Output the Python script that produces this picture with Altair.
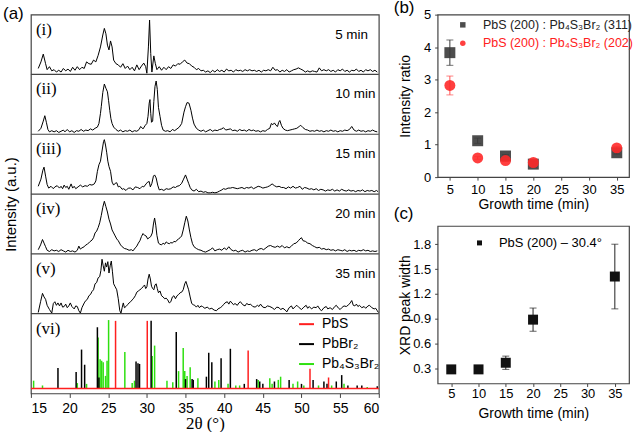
import altair as alt
import pandas as pd

# ---------------- data: panel (a) XRD traces (2theta, normalised height within its strip) ----------------
TRACE_I = [(15.95,.10),(16.3,.21),(16.6,.34),(16.9,.18),(17.1,.08),(17.4,.13),(17.7,.06),(18.0,.08),(18.3,.04),(18.6,.07),(18.9,.04),(19.2,.10),(19.5,.06),(19.8,.09),(20.1,.05),(20.4,.12),(20.7,.07),(21.0,.13),(21.3,.08),(21.6,.12),(21.9,.10),(22.2,.21),(22.5,.18),(22.8,.17),(23.1,.24),(23.4,.21),(23.7,.32),(24.0,.46),(24.3,.66),(24.5,.77),(24.7,.68),(24.9,.49),(25.1,.41),(25.3,.56),(25.5,.46),(25.7,.24),(26.0,.18),(26.3,.16),(26.6,.12),(26.9,.18),(27.2,.10),(27.5,.14),(27.8,.08),(28.1,.12),(28.4,.06),(28.7,.16),(29.0,.08),(29.3,.14),(29.6,.19),(29.85,.13),(30.0,.02),(30.2,.46),(30.35,.91),(30.5,.35),(30.65,.04),(30.9,.31),(31.1,.18),(31.3,.08),(31.6,.13),(31.9,.07),(32.2,.12),(32.5,.08),(32.8,.13),(33.1,.10),(33.4,.16),(33.7,.14),(34.0,.18),(34.3,.17),(34.6,.21),(34.9,.24),(35.2,.19),(35.5,.18),(35.8,.14),(36.1,.12),(36.4,.08),(36.7,.10),(37.0,.06),(37.3,.07),(37.6,.04),(37.9,.06),(38.2,.03),(38.5,.07),(38.8,.04),(39.1,.08),(39.4,.05),(39.7,.07),(40.0,.04),(40.3,.09),(40.6,.06),(40.9,.07),(41.2,.04),(41.5,.08),(41.8,.06),(42.1,.07),(42.4,.05),(42.7,.08),(43.0,.06),(43.3,.08),(43.6,.06),(43.9,.07),(44.2,.05),(44.5,.07),(44.8,.04),(45.1,.07),(45.4,.06),(45.7,.08),(46.0,.06),(46.3,.12),(46.6,.07),(46.9,.08),(47.2,.04),(47.5,.07),(47.8,.05),(48.1,.08),(48.4,.04),(48.7,.06),(49.0,.08),(49.3,.09),(49.6,.11),(49.9,.09),(50.2,.07),(50.5,.04),(50.8,.06),(51.1,.04),(51.4,.06),(51.7,.05),(52.0,.04),(52.3,.11),(52.6,.06),(52.9,.08),(53.2,.06),(53.5,.08),(53.8,.05),(54.1,.07),(54.4,.04),(54.7,.08),(55.0,.06),(55.3,.09),(55.6,.05),(55.9,.07),(56.2,.04),(56.5,.07),(56.8,.06),(57.1,.09),(57.4,.05),(57.7,.07),(58.0,.04),(58.3,.08),(58.6,.06),(58.9,.08),(59.2,.05),(59.5,.07),(59.8,.04)]

TRACE_II = [(15.95,.05),(16.3,.10),(16.6,.22),(16.8,.31),(17.0,.20),(17.2,.08),(17.4,.04),(17.7,.06),(18.0,.04),(18.3,.06),(18.6,.03),(18.9,.05),(19.2,.07),(19.4,.04),(19.7,.08),(20.0,.04),(20.3,.06),(20.6,.03),(20.9,.06),(21.2,.05),(21.5,.08),(21.8,.05),(22.1,.07),(22.4,.06),(22.7,.09),(23.0,.07),(23.3,.10),(23.6,.12),(23.8,.18),(24.0,.35),(24.1,.46),(24.3,.70),(24.5,.84),(24.7,.77),(24.9,.71),(25.05,.56),(25.2,.40),(25.35,.26),(25.5,.18),(25.7,.12),(26.0,.08),(26.3,.05),(26.6,.07),(26.9,.04),(27.2,.06),(27.5,.05),(27.8,.07),(28.1,.04),(28.4,.06),(28.7,.05),(29.0,.08),(29.2,.13),(29.5,.09),(29.8,.15),(30.0,.18),(30.15,.30),(30.3,.52),(30.4,.58),(30.5,.35),(30.6,.20),(30.75,.22),(30.9,.55),(31.05,.80),(31.2,.89),(31.35,.75),(31.5,.45),(31.7,.30),(31.9,.15),(32.1,.07),(32.4,.05),(32.7,.06),(33.0,.04),(33.3,.08),(33.6,.06),(33.9,.09),(34.2,.12),(34.5,.18),(34.8,.37),(35.0,.46),(35.2,.53),(35.45,.52),(35.7,.40),(35.9,.27),(36.1,.17),(36.4,.10),(36.7,.07),(37.0,.05),(37.3,.07),(37.6,.04),(37.9,.06),(38.2,.08),(38.5,.05),(38.8,.07),(39.1,.06),(39.4,.08),(39.7,.09),(39.9,.11),(40.2,.07),(40.5,.08),(40.8,.09),(41.1,.06),(41.4,.07),(41.7,.05),(42.0,.08),(42.3,.06),(42.6,.07),(42.9,.05),(43.2,.08),(43.5,.06),(43.8,.07),(44.1,.05),(44.4,.06),(44.7,.04),(45.0,.06),(45.3,.05),(45.6,.08),(45.9,.10),(46.1,.18),(46.3,.16),(46.5,.19),(46.7,.15),(46.9,.13),(47.05,.20),(47.2,.23),(47.4,.15),(47.6,.10),(47.9,.07),(48.2,.06),(48.5,.07),(48.8,.08),(49.1,.09),(49.4,.10),(49.7,.13),(49.9,.15),(50.2,.11),(50.5,.08),(50.8,.07),(51.1,.05),(51.4,.06),(51.7,.05),(52.0,.07),(52.3,.05),(52.6,.06),(52.9,.04),(53.2,.06),(53.5,.05),(53.8,.07),(54.1,.05),(54.4,.06),(54.7,.04),(55.0,.06),(55.3,.05),(55.6,.07),(55.9,.06),(56.2,.08),(56.5,.13),(56.8,.07),(57.1,.05),(57.4,.07),(57.7,.05),(58.0,.06),(58.3,.04),(58.6,.06),(58.9,.05),(59.2,.07),(59.5,.05),(59.8,.04)]

TRACE_III = [(15.95,.13),(16.3,.25),(16.55,.40),(16.7,.45),(16.9,.30),(17.1,.16),(17.3,.10),(17.6,.13),(17.9,.09),(18.1,.12),(18.4,.14),(18.7,.10),(18.9,.13),(19.1,.09),(19.3,.15),(19.5,.11),(19.7,.13),(19.9,.08),(20.2,.17),(20.4,.10),(20.6,.13),(20.8,.09),(21.1,.12),(21.4,.15),(21.7,.12),(22.0,.14),(22.3,.13),(22.6,.16),(22.9,.15),(23.2,.17),(23.4,.22),(23.6,.38),(23.8,.49),(24.0,.55),(24.2,.72),(24.4,.88),(24.5,.91),(24.65,.82),(24.8,.70),(24.95,.55),(25.1,.46),(25.3,.38),(25.5,.20),(25.7,.15),(25.9,.18),(26.1,.19),(26.3,.12),(26.5,.13),(26.8,.08),(27.0,.09),(27.3,.06),(27.6,.10),(27.9,.10),(28.2,.07),(28.5,.12),(28.8,.11),(29.1,.09),(29.4,.13),(29.6,.12),(29.9,.17),(30.1,.20),(30.3,.21),(30.45,.12),(30.65,.18),(30.85,.30),(31.0,.32),(31.2,.27),(31.4,.15),(31.6,.07),(31.9,.08),(32.2,.06),(32.5,.09),(32.8,.08),(33.1,.09),(33.4,.12),(33.7,.11),(33.9,.13),(34.2,.14),(34.5,.18),(34.75,.25),(35.0,.32),(35.2,.25),(35.4,.18),(35.6,.11),(35.8,.07),(36.1,.05),(36.4,.08),(36.7,.04),(37.0,.05),(37.3,.03),(37.6,.04),(37.9,.02),(38.2,.02),(38.5,.03),(38.8,.02),(39.1,.03),(39.4,.05),(39.7,.07),(39.9,.09),(40.2,.08),(40.5,.10),(40.8,.10),(41.1,.11),(41.4,.10),(41.7,.09),(42.0,.10),(42.3,.11),(42.6,.09),(42.9,.11),(43.2,.10),(43.5,.12),(43.8,.09),(44.1,.11),(44.4,.13),(44.7,.12),(45.0,.10),(45.3,.11),(45.6,.12),(45.9,.14),(46.2,.17),(46.5,.14),(46.8,.12),(47.1,.13),(47.4,.11),(47.7,.11),(48.0,.09),(48.3,.12),(48.6,.10),(48.9,.13),(49.2,.10),(49.5,.11),(49.8,.13),(50.1,.08),(50.4,.11),(50.7,.10),(51.0,.08),(51.3,.09),(51.6,.07),(51.9,.09),(52.2,.06),(52.5,.08),(52.8,.07),(53.1,.05),(53.4,.07),(53.7,.06),(54.0,.08),(54.3,.05),(54.6,.07),(54.9,.05),(55.2,.08),(55.5,.06),(55.8,.05),(56.1,.07),(56.4,.05),(56.7,.06),(57.0,.04),(57.3,.06),(57.6,.05),(57.9,.07),(58.2,.04),(58.5,.06),(58.8,.05),(59.1,.06),(59.4,.04),(59.7,.06),(59.9,.04)]

TRACE_IV = [(15.95,.07),(16.25,.15),(16.5,.24),(16.7,.18),(16.9,.12),(17.1,.06),(17.4,.04),(17.7,.07),(18.0,.05),(18.3,.06),(18.6,.04),(18.9,.07),(19.2,.05),(19.5,.03),(19.8,.06),(20.1,.04),(20.4,.05),(20.7,.03),(21.0,.06),(21.2,.13),(21.4,.08),(21.6,.10),(21.9,.12),(22.1,.15),(22.3,.16),(22.6,.20),(22.9,.23),(23.1,.27),(23.3,.35),(23.5,.38),(23.7,.44),(23.9,.52),(24.1,.64),(24.3,.78),(24.5,.88),(24.7,.79),(24.9,.70),(25.1,.58),(25.3,.50),(25.5,.40),(25.7,.35),(25.9,.30),(26.1,.25),(26.3,.22),(26.6,.15),(26.8,.12),(27.1,.09),(27.4,.08),(27.7,.06),(28.0,.07),(28.2,.05),(28.5,.10),(28.7,.13),(28.9,.18),(29.1,.22),(29.3,.29),(29.5,.34),(29.7,.31),(29.9,.30),(30.1,.25),(30.3,.27),(30.5,.29),(30.7,.35),(30.85,.50),(31.0,.60),(31.15,.48),(31.3,.31),(31.5,.18),(31.7,.16),(31.9,.15),(32.1,.18),(32.3,.16),(32.5,.20),(32.7,.18),(32.9,.17),(33.1,.19),(33.3,.18),(33.5,.21),(33.7,.20),(33.9,.23),(34.1,.25),(34.3,.27),(34.5,.30),(34.7,.40),(34.9,.52),(35.1,.63),(35.3,.55),(35.5,.40),(35.7,.27),(35.9,.17),(36.1,.12),(36.4,.09),(36.7,.07),(37.0,.06),(37.3,.04),(37.6,.03),(37.9,.05),(38.2,.07),(38.5,.10),(38.8,.05),(39.1,.07),(39.4,.08),(39.7,.06),(40.0,.10),(40.3,.07),(40.6,.12),(40.9,.07),(41.2,.05),(41.5,.06),(41.8,.03),(42.1,.05),(42.4,.06),(42.7,.03),(43.0,.05),(43.3,.04),(43.6,.06),(43.9,.07),(44.2,.05),(44.5,.08),(44.8,.09),(45.1,.07),(45.4,.10),(45.7,.13),(46.0,.14),(46.3,.12),(46.6,.11),(46.9,.13),(47.2,.11),(47.5,.14),(47.8,.10),(48.1,.12),(48.4,.10),(48.7,.13),(49.0,.17),(49.3,.18),(49.6,.22),(49.8,.25),(50.0,.27),(50.2,.22),(50.5,.21),(50.8,.18),(51.1,.17),(51.4,.14),(51.7,.12),(52.0,.10),(52.3,.11),(52.6,.08),(52.9,.09),(53.2,.07),(53.5,.08),(53.8,.06),(54.1,.07),(54.4,.05),(54.7,.07),(55.0,.06),(55.3,.05),(55.6,.07),(55.9,.04),(56.2,.06),(56.5,.05),(56.8,.06),(57.1,.04),(57.4,.06),(57.7,.05),(58.0,.07),(58.3,.05),(58.6,.06),(58.9,.04),(59.2,.05),(59.5,.04),(59.8,.05)]

TRACE_V = [(15.95,.02),(16.25,.20),(16.5,.34),(16.7,.28),(16.9,.24),(17.1,.14),(17.4,.07),(17.7,.01),(17.9,.17),(18.1,.20),(18.3,.14),(18.5,.18),(18.7,.13),(18.9,.18),(19.1,.11),(19.3,.12),(19.5,.16),(19.7,.10),(19.9,.13),(20.1,.18),(20.3,.12),(20.6,.08),(20.8,.13),(21.0,.12),(21.2,.05),(21.4,.01),(21.6,.10),(21.9,.18),(22.1,.22),(22.3,.24),(22.5,.30),(22.7,.32),(22.9,.37),(23.1,.40),(23.3,.50),(23.5,.52),(23.7,.60),(23.9,.62),(24.05,.72),(24.2,.91),(24.35,.80),(24.5,.71),(24.65,.85),(24.8,.78),(24.95,.87),(25.1,.68),(25.25,.80),(25.4,.88),(25.55,.70),(25.7,.50),(25.9,.45),(26.1,.40),(26.3,.25),(26.5,.05),(26.65,.01),(26.8,.10),(26.95,.18),(27.1,.10),(27.3,.12),(27.5,.15),(27.7,.18),(27.9,.20),(28.1,.23),(28.3,.26),(28.5,.30),(28.7,.36),(28.9,.38),(29.1,.40),(29.3,.42),(29.5,.45),(29.7,.48),(29.85,.42),(30.0,.45),(30.15,.58),(30.3,.66),(30.45,.58),(30.6,.46),(30.75,.42),(30.9,.40),(31.05,.48),(31.2,.50),(31.35,.42),(31.5,.35),(31.7,.38),(31.9,.30),(32.1,.28),(32.3,.25),(32.5,.26),(32.7,.23),(32.9,.18),(33.1,.20),(33.3,.28),(33.5,.30),(33.7,.25),(33.9,.30),(34.1,.32),(34.3,.35),(34.5,.36),(34.7,.40),(34.9,.50),(35.05,.54),(35.2,.48),(35.4,.40),(35.6,.28),(35.8,.17),(36.0,.15),(36.2,.14),(36.4,.11),(36.6,.14),(36.8,.10),(37.0,.13),(37.2,.12),(37.5,.09),(37.8,.11),(38.1,.08),(38.4,.09),(38.7,.06),(39.0,.05),(39.2,.08),(39.5,.10),(39.7,.12),(39.9,.15),(40.1,.18),(40.4,.20),(40.6,.16),(40.8,.21),(41.0,.18),(41.2,.15),(41.4,.17),(41.7,.14),(41.9,.18),(42.1,.20),(42.4,.15),(42.7,.13),(42.9,.17),(43.2,.15),(43.4,.16),(43.7,.12),(44.0,.11),(44.3,.14),(44.5,.12),(44.7,.16),(45.0,.11),(45.3,.10),(45.6,.13),(45.9,.12),(46.2,.10),(46.5,.07),(46.8,.11),(47.1,.10),(47.3,.07),(47.6,.09),(47.9,.06),(48.1,.03),(48.4,.10),(48.7,.13),(48.9,.08),(49.2,.12),(49.4,.14),(49.7,.10),(50.0,.07),(50.3,.11),(50.6,.14),(50.8,.09),(51.0,.12),(51.3,.08),(51.6,.11),(51.9,.10),(52.1,.13),(52.4,.07),(52.6,.05),(52.9,.10),(53.2,.12),(53.4,.08),(53.7,.10),(54.0,.07),(54.3,.12),(54.5,.14),(54.8,.09),(55.0,.07),(55.2,.10),(55.5,.13),(55.8,.12),(56.1,.15),(56.3,.18),(56.5,.22),(56.7,.14),(56.9,.13),(57.1,.16),(57.3,.12),(57.5,.14),(57.8,.10),(58.1,.12),(58.3,.09),(58.6,.13),(58.8,.14),(59.1,.10),(59.4,.08),(59.6,.09),(59.8,.05),(59.95,.02)]

TRACES = [TRACE_I, TRACE_II, TRACE_III, TRACE_IV, TRACE_V]
PANEL_LABELS = ["(i)", "(ii)", "(iii)", "(iv)", "(v)"]
TIME_LABELS = ["5 min", "10 min", "15 min", "20 min", "35 min"]

# ---------------- data: panel (a)(vi) reference patterns (2theta, height as fraction of strip) ----------------
REF_PHASES = ["PbS", "PbBr\u2082", "Pb\u2084S\u2083Br\u2082"]
REF_COLORS = ["#ff1f1f", "#000000", "#2fe010"]
STICKS_PBS = [(25.95,.91),(30.05,.91),(43.1,.54),(51.1,.31),(53.5,.20)]
STICKS_PBBR2 = [(18.5,.32),(20.85,.27),(21.55,.55),(21.95,.36),(23.6,.83),(23.8,.20),(28.6,.40),(28.85,.38),(29.05,.37),(30.55,.91),(33.8,.77),(35.0,.18),(35.85,.18),(36.0,.17),(37.7,.21),(38.0,.51),(38.4,.39),(39.6,.44),(40.8,.56),(42.6,.12),(44.2,.18),(44.6,.15),(45.0,.12),(46.5,.15),(48.4,.17),(50.0,.12),(51.5,.17),(52.9,.15),(53.3,.12),(54.5,.15),(55.2,.23),(56.0,.10),(57.2,.10),(57.8,.10),(59.8,.09)]
STICKS_PB4S3BR2 = [(15.35,.16),(16.5,.10),(21.0,.13),(22.2,.12),(23.7,.70),(23.95,.43),(24.15,.41),(24.35,.39),(24.65,.22),(24.85,.41),(25.05,.92),(27.15,.52),(28.1,.13),(28.4,.16),(30.7,.47),(31.0,.60),(32.6,.16),(33.35,.14),(34.1,.28),(34.7,.57),(34.9,.28),(35.2,.22),(35.6,.33),(36.6,.19),(38.8,.15),(39.3,.17),(40.5,.12),(41.5,.10),(42.0,.10),(44.4,.17),(45.9,.19),(46.2,.12),(47.0,.17),(47.3,.21),(48.9,.12),(49.5,.15),(50.3,.10),(52.2,.10),(53.9,.10),(55.5,.12),(58.5,.08)]
REF_BASELINE = 0.0625

# ---------------- data: panels (b) and (c) ----------------
GROWTH_TIME = [5, 10, 15, 20, 35]
SERIES_B = ["PbS (200) : Pb\u2084S\u2083Br\u2082 (311)", "PbS (200) : Pb\u2084S\u2083Br\u2082 (202)"]
RATIO_311 = [3.83, 1.12, 0.65, 0.40, 0.75]
ERR_311 = [0.39, 0.08, 0.04, 0.03, 0.04]
RATIO_202 = [2.82, 0.59, 0.51, 0.45, 0.90]
ERR_202 = [0.29, 0.04, 0.03, 0.03, 0.04]
SERIES_C = "PbS (200) \u2013 30.4\u00b0"
PEAK_WIDTH = [0.29, 0.29, 0.37, 0.89, 1.41]
ERR_WIDTH = [0.0, 0.0, 0.08, 0.14, 0.39]

# ---------------- panel (a) ----------------
REF_H = 4 / 3                      # height of the reference strip, in strip units
TOP = REF_H + len(TRACES)
bases = [REF_H + (len(TRACES) - 1 - k) for k in range(len(TRACES))]

rows = []
for k, tr in enumerate(TRACES):
    for x, h in tr:
        rows.append({"panel": k, "x": x, "y": bases[k] + h})
df_trace = pd.DataFrame(rows)
df_sep = pd.DataFrame({"y": [REF_H + j for j in range(len(TRACES))]})
df_lab = pd.DataFrame({"x": [15.65] * 6, "y": [b + 1 for b in bases] + [REF_H],
                       "t": PANEL_LABELS + ["(vi)"]})
df_min = pd.DataFrame({"x": [54.35] * 5, "y": [b + 1 for b in bases], "t": TIME_LABELS})
srows = []
for phase, sticks in [(REF_PHASES[2], STICKS_PB4S3BR2), (REF_PHASES[1], STICKS_PBBR2), (REF_PHASES[0], STICKS_PBS)]:
    for x, h in sticks:
        srows.append({"phase": phase, "x": x, "y": REF_BASELINE * REF_H, "y2": h * REF_H})
df_stick = pd.DataFrame(srows)
df_base = pd.DataFrame({"y": [REF_BASELINE * REF_H]})

xa = alt.X("x:Q", scale=alt.Scale(domain=[15, 60], nice=False, zero=False),
           axis=alt.Axis(values=list(range(15, 61, 5)), title="2\u03b8 (\u00b0)",
                         titleFont="Liberation Serif", titleFontSize=17, labelFontSize=14,
                         tickSize=4, labelPadding=4, titlePadding=0))
ya = alt.Y("y:Q", scale=alt.Scale(domain=[0, TOP], nice=False, zero=False),
           axis=alt.Axis(title="Intensity (a.u.)", labels=False, ticks=False, minExtent=0,
                         maxExtent=0, titlePadding=12, titleFontSize=15))

lines = alt.Chart(df_trace).mark_line(color="black", strokeWidth=1).encode(x=xa, y=ya, detail="panel:N")
seps = alt.Chart(df_sep).mark_rule(color="#444", strokeWidth=1.2).encode(y=ya)
sticks = alt.Chart(df_stick).mark_rule(strokeWidth=1.5).encode(
    x=xa, y=ya, y2="y2:Q",
    color=alt.Color("phase:N", scale=alt.Scale(domain=REF_PHASES, range=REF_COLORS),
                    legend=alt.Legend(orient="none", legendX=268, legendY=302, title=None,
                                      symbolType="stroke", symbolSize=225, symbolStrokeWidth=2,
                                      labelFontSize=14, labelOffset=7, rowPadding=4, padding=0)))
baseline = alt.Chart(df_base).mark_rule(color=REF_COLORS[0], strokeWidth=1.5).encode(y=ya)
labs = alt.Chart(df_lab).mark_text(align="left", baseline="middle", dy=15,
                                   font="Liberation Serif", fontSize=17).encode(x=xa, y=ya, text="t:N")
mins = alt.Chart(df_min).mark_text(align="left", baseline="middle", dy=20,
                                   fontSize=13.5).encode(x=xa, y=ya, text="t:N")

chart_a = alt.layer(sticks, baseline, lines, seps, labs, mins).properties(
    width=349, height=380,
    title=alt.TitleParams("(a)", anchor="start", frame="group", dx=-28, dy=0, offset=-16,
                          baseline="middle", fontSize=17, fontWeight="normal"))

# ---------------- panel (b) ----------------
df_b = pd.DataFrame({
    "t": GROWTH_TIME * 2,
    "v": RATIO_311 + RATIO_202,
    "lo": [v - e for v, e in zip(RATIO_311, ERR_311)] + [v - e for v, e in zip(RATIO_202, ERR_202)],
    "hi": [v + e for v, e in zip(RATIO_311, ERR_311)] + [v + e for v, e in zip(RATIO_202, ERR_202)],
    "s": [SERIES_B[0]] * 5 + [SERIES_B[1]] * 5,
})
xb = alt.X("t:Q", scale=alt.Scale(domain=[2.8, 37.2], nice=False, zero=False),
           axis=alt.Axis(values=list(range(5, 36, 5)), title="Growth time (min)", labelFontSize=13,
                         titleFontSize=14, tickSize=3, labelPadding=3.4, titlePadding=0.6))
ax_yb = alt.Axis(values=[0, 1, 2, 3, 4, 5], title="Intensity ratio", labelFontSize=13,
                 titleFontSize=14, tickSize=3, labelPadding=4, minExtent=24, maxExtent=24,
                 titlePadding=1)
sc_yb = alt.Scale(domain=[0, 5], nice=False)
yb = alt.Y("v:Q", scale=sc_yb, axis=ax_yb)
ylo_b = alt.Y("lo:Q", scale=sc_yb, axis=ax_yb)
ERRCOL_B = ["#3a3a3a", "#ff5050"]
b_layers = []
for i, s in enumerate(SERIES_B):
    d = df_b[df_b["s"] == s]
    b_layers.append(alt.Chart(d).mark_rule(color=ERRCOL_B[i], strokeWidth=1).encode(x=xb, y=ylo_b, y2="hi:Q"))
    b_layers.append(alt.Chart(d).mark_tick(color=ERRCOL_B[i], orient="horizontal", size=7, thickness=1).encode(x=xb, y=ylo_b))
    b_layers.append(alt.Chart(d).mark_tick(color=ERRCOL_B[i], orient="horizontal", size=7, thickness=1).encode(
        x=xb, y=alt.Y("hi:Q", scale=sc_yb, axis=ax_yb)))
leg_b = alt.Legend(orient="none", legendX=19, legendY=4, title=None, symbolSize=30,
                   labelFontSize=12.5, labelOffset=14, rowPadding=5.5, padding=0,
                   labelColor=alt.ExprRef("indexof(datum.value, '202') >= 0 ? '#ff2020' : '#222222'"))
pts_b = alt.Chart(df_b).mark_point(filled=True, size=121, opacity=0.9).encode(
    x=xb, y=yb,
    color=alt.Color("s:N", scale=alt.Scale(domain=SERIES_B, range=["#3a3a3a", "#ff2a2a"]), legend=leg_b),
    shape=alt.Shape("s:N", scale=alt.Scale(domain=SERIES_B, range=["square", "circle"]), legend=leg_b))
chart_b = alt.layer(*b_layers, pts_b).properties(
    width=192, height=163,
    title=alt.TitleParams("(b)", anchor="start", frame="group", dx=-44, dy=0, offset=-16,
                          baseline="middle", fontSize=17, fontWeight="normal"))

# ---------------- panel (c) ----------------
df_c = pd.DataFrame({
    "t": GROWTH_TIME, "v": PEAK_WIDTH,
    "lo": [v - e for v, e in zip(PEAK_WIDTH, ERR_WIDTH)],
    "hi": [v + e for v, e in zip(PEAK_WIDTH, ERR_WIDTH)],
    "s": [SERIES_C] * 5,
})
xc = alt.X("t:Q", scale=alt.Scale(domain=[2.5, 37.6], nice=False, zero=False),
           axis=alt.Axis(values=list(range(5, 36, 5)), title="Growth time (min)", labelFontSize=13,
                         titleFontSize=14, tickSize=3, labelPadding=1.4, titlePadding=5.6))
ax_yc = alt.Axis(values=[0.3, 0.6, 0.9, 1.2, 1.5, 1.8], format=".1f", title="XRD peak width",
                 labelFontSize=13, titleFontSize=14, tickSize=3, labelPadding=4, minExtent=24,
                 maxExtent=24, titlePadding=1)
sc_yc = alt.Scale(domain=[0.12, 2.02], nice=False, zero=False)
d_err = df_c[df_c["hi"] > df_c["lo"]]
err_c = alt.Chart(d_err).mark_rule(color="#222", strokeWidth=1).encode(
    x=xc, y=alt.Y("lo:Q", scale=sc_yc, axis=ax_yc), y2="hi:Q")
cap_lo = alt.Chart(d_err).mark_tick(color="#222", orient="horizontal", size=7, thickness=1).encode(
    x=xc, y=alt.Y("lo:Q", scale=sc_yc, axis=ax_yc))
cap_hi = alt.Chart(d_err).mark_tick(color="#222", orient="horizontal", size=7, thickness=1).encode(
    x=xc, y=alt.Y("hi:Q", scale=sc_yc, axis=ax_yc))
pts_c = alt.Chart(df_c).mark_point(filled=True, size=100, opacity=1, shape="square").encode(
    x=xc, y=alt.Y("v:Q", scale=sc_yc, axis=ax_yc),
    color=alt.Color("s:N", scale=alt.Scale(domain=[SERIES_C], range=["#111111"]),
                    legend=alt.Legend(orient="none", legendX=35.5, legendY=10.5, title=None,
                                      symbolSize=25, symbolType="square", labelFontSize=13,
                                      labelOffset=13, padding=0)))
chart_c = alt.layer(err_c, cap_lo, cap_hi, pts_c).properties(
    width=192, height=158,
    title=alt.TitleParams("(c)", anchor="start", frame="group", dx=-44, dy=0, offset=-5,
                          baseline="middle", fontSize=17, fontWeight="normal"))

right = alt.vconcat(chart_b, chart_c, spacing=49, bounds="flush").resolve_scale(
    color="independent", shape="independent").resolve_legend(color="independent", shape="independent")
chart = alt.hconcat(chart_a, right, spacing=11).resolve_scale(
    color="independent", shape="independent").resolve_legend(
    color="independent", shape="independent").properties(
    padding={"left": 2, "top": -3, "right": 0, "bottom": 0}
).configure_view(stroke="#444", strokeWidth=1.2).configure_axis(
    grid=False, domain=False, labelFont="Liberation Sans", titleFont="Liberation Sans",
    labelColor="#000", titleColor="#000", tickColor="#444", titleFontWeight="normal"
).configure_title(font="Liberation Sans", color="#000").configure_legend(
    labelFont="Liberation Sans", labelColor="#000"
).configure_text(font="Liberation Sans", color="#000")

chart.save("out.html", embed_options={"renderer": "svg", "actions": False})
